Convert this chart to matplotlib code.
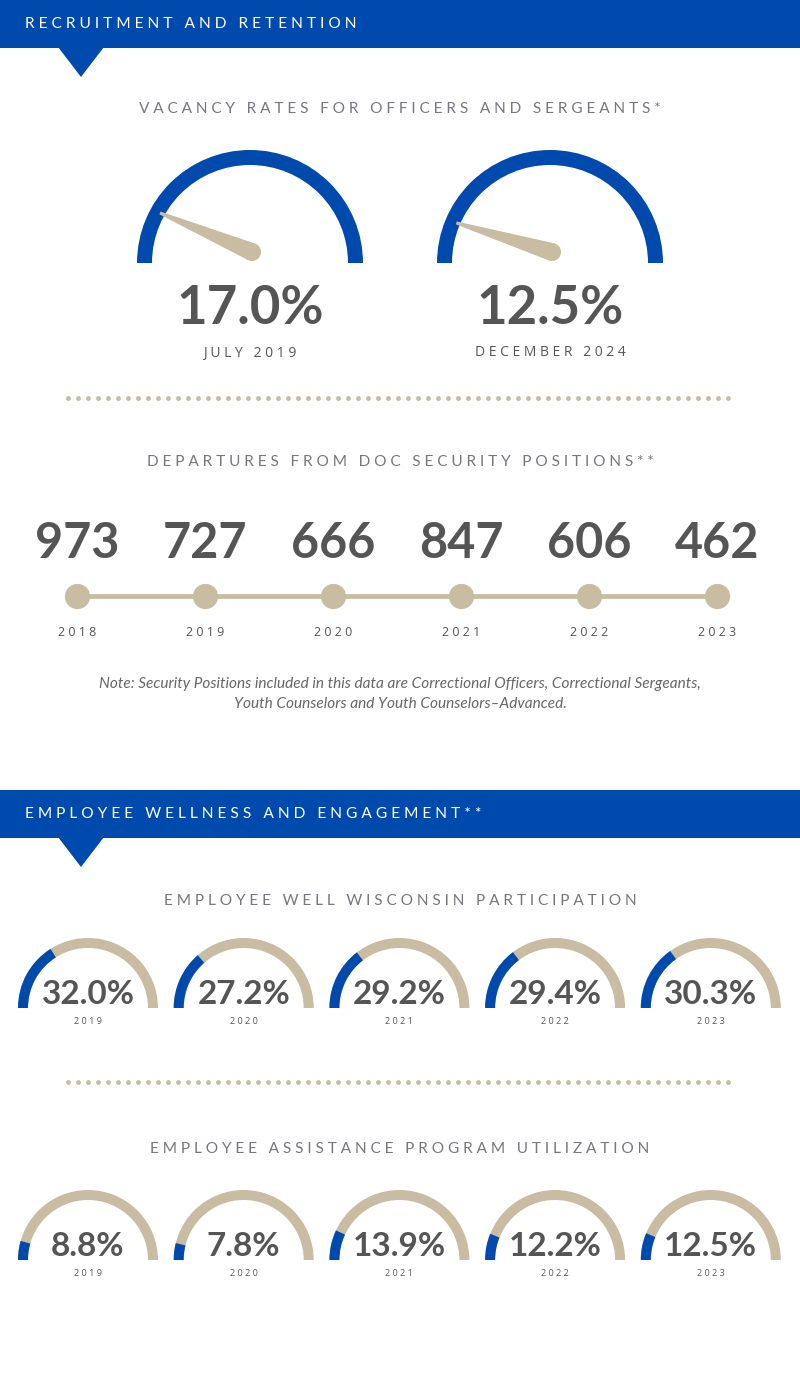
import numpy as np
import matplotlib
matplotlib.use("Agg")
import matplotlib.pyplot as plt
import matplotlib.patches as patches

# ---- data ----
vacancy_labels = ["JULY 2019", "DECEMBER 2024"]
vacancy_rates = [17.0, 12.5]

departure_years = ["2018", "2019", "2020", "2021", "2022", "2023"]
departures = [973, 727, 666, 847, 606, 462]

wellness_years = ["2019", "2020", "2021", "2022", "2023"]
well_wisconsin = [32.0, 27.2, 29.2, 29.4, 30.3]
eap_utilization = [8.8, 7.8, 13.9, 12.2, 12.5]

BLUE = "#004aad"
TAN = "#c8bca2"
DARK = "#555555"
SUB = "#767680"
FONT = ["Lato", "DejaVu Sans"]
WIDE = ["Open Sans", "DejaVu Sans"]


def spaced(s):
    # fake letter spacing
    return " ".join(s)


def banner(ax, y, text):
    ax.add_patch(patches.Rectangle((0, y), 800, 48, color=BLUE, lw=0))
    ax.add_patch(patches.Polygon([(58, y + 47), (104, y + 47), (81, y + 77)], color=BLUE, lw=0))
    ax.text(25, y + 24, spaced(text), color="white", fontsize=11.2, family=FONT,
            ha="left", va="center")


def subtitle(ax, y, text):
    ax.text(400, y + 1, spaced(text), color=SUB, fontsize=11.1, family=FONT,
            ha="center", va="center")


def dots(ax, y):
    xs = np.arange(68, 731, 10)
    ax.scatter(xs, np.full(len(xs), y), s=12, color=TAN, lw=0)


def big_gauge(ax, cx, base, value, label):
    R = 113
    ax.add_patch(patches.Wedge((cx, base), R, -180, 0, width=15, color=BLUE, lw=0))
    # needle
    a = np.radians(180 - value * 180 / 133)
    px, py = cx + 2, base - 11
    L = 100
    tx, ty = px + L * np.cos(a), py - L * np.sin(a)
    nx, ny = np.sin(a), np.cos(a)
    pts = [(tx + nx * 1.5, ty + ny * 1.5), (px + nx * 9, py + ny * 9),
           (px - nx * 9, py - ny * 9), (tx - nx * 1.5, ty - ny * 1.5)]
    ax.add_patch(patches.Polygon(pts, color=TAN, lw=0))
    ax.add_patch(patches.Circle((px, py), 9, color=TAN, lw=0))
    ax.text(cx, base + 46, f"{value:.1f}%", color=DARK, fontsize=38, fontweight="bold",
            family=FONT, ha="center", va="center")
    ax.text(cx, base + 90, spaced(label), color=DARK, fontsize=10, family=WIDE,
            ha="center", va="center")


def small_gauge(ax, cx, base, value, label):
    R = 70
    ax.add_patch(patches.Wedge((cx, base), R, -180, 0, width=10, color=TAN, lw=0))
    ax.add_patch(patches.Wedge((cx, base), R, -180, -180 + value * 1.8, width=10,
                               color=BLUE, lw=0))
    ax.text(cx, base - 14, f"{value:.1f}%", color=DARK, fontsize=24, fontweight="bold",
            family=FONT, ha="center", va="center")
    ax.text(cx, base + 13, spaced(label), color=DARK, fontsize=6.5, family=WIDE,
            ha="center", va="center")


fig = plt.figure(figsize=(8, 14), dpi=100)
ax = fig.add_axes([0, 0, 1, 1])
ax.set_xlim(0, 800)
ax.set_ylim(1400, 0)
ax.axis("off")

# ---- recruitment and retention ----
banner(ax, 0, "RECRUITMENT AND RETENTION")
subtitle(ax, 108, "VACANCY RATES FOR OFFICERS AND SERGEANTS*")
for i, (v, lab) in enumerate(zip(vacancy_rates, vacancy_labels)):
    big_gauge(ax, 250 + i * 300, 263, v, lab)

dots(ax, 398)

subtitle(ax, 461, "DEPARTURES FROM DOC SECURITY POSITIONS**")
xs = [77 + i * 128 for i in range(len(departures))]
ax.plot(xs, [596] * len(xs), color=TAN, lw=3.5, solid_capstyle="butt", zorder=1)
ax.scatter(xs, [596] * len(xs), s=330, color=TAN, lw=0, zorder=2)
for x, n, yr in zip(xs, departures, departure_years):
    ax.text(x, 543, str(n), color=DARK, fontsize=35, fontweight="bold", family=FONT,
            ha="center", va="center")
    ax.text(x, 633, spaced(yr), color=DARK, fontsize=9, family=WIDE,
            ha="center", va="center")

ax.text(400, 694, "Note: Security Positions included in this data are Correctional Officers, "
        "Correctional Sergeants,\nYouth Counselors and Youth Counselors\u2013Advanced.",
        color="#666666", fontsize=11.1, style="italic", family=FONT, ha="center",
        va="center", linespacing=1.5)

# ---- wellness ----
banner(ax, 790, "EMPLOYEE WELLNESS AND ENGAGEMENT**")
subtitle(ax, 900, "EMPLOYEE WELL WISCONSIN PARTICIPATION")
gx = [88 + i * 155.7 for i in range(len(wellness_years))]
for x, v, yr in zip(gx, well_wisconsin, wellness_years):
    small_gauge(ax, x, 1008, v, yr)

dots(ax, 1082)

subtitle(ax, 1148, "EMPLOYEE ASSISTANCE PROGRAM UTILIZATION")
for x, v, yr in zip(gx, eap_utilization, wellness_years):
    small_gauge(ax, x, 1260, v, yr)

fig.savefig("out.png", dpi=100, facecolor="white")
